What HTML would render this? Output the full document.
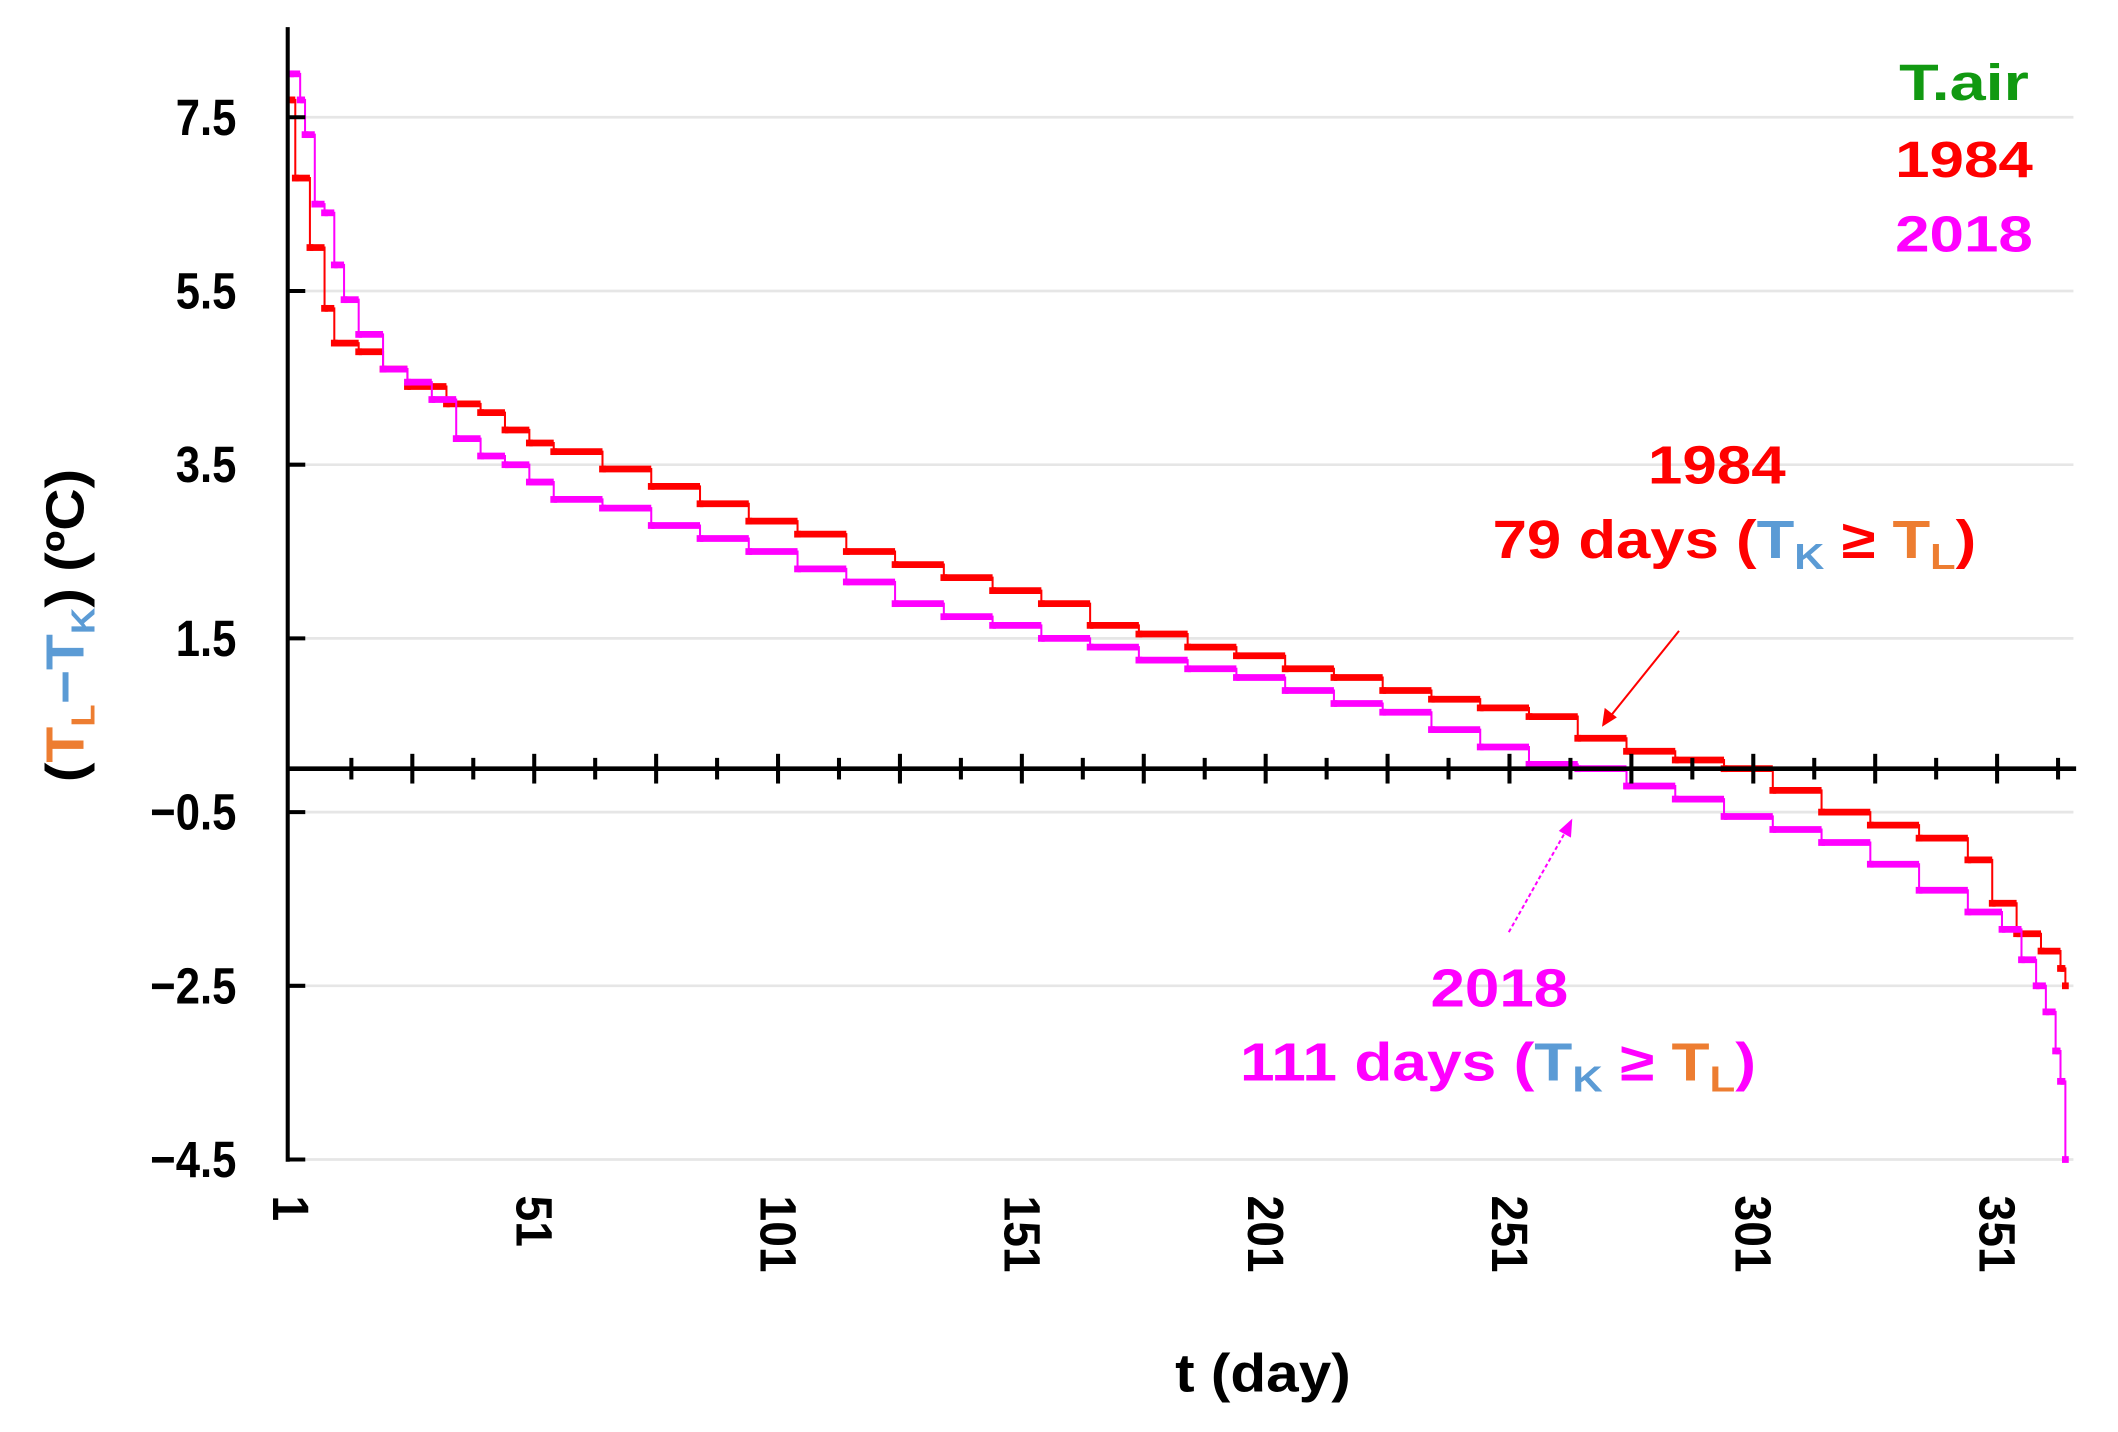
<!DOCTYPE html>
<html><head><meta charset="utf-8"><style>
html,body{margin:0;padding:0;background:#fff;}
svg{display:block;font-family:"Liberation Sans",Arial,sans-serif;font-weight:bold;}
</style></head><body>
<svg id="chart" width="2118" height="1432" viewBox="0 0 1568 1060" xmlns="http://www.w3.org/2000/svg">
<g id="grid"></g>
<g id="series"></g>
<g id="axes"></g>
<g font-size="38" text-anchor="end">
<text x="1502" y="74" fill="#119911" textLength="96" lengthAdjust="spacingAndGlyphs">T.air</text>
<text x="1505" y="131" fill="#ff0000" textLength="102" lengthAdjust="spacingAndGlyphs">1984</text>
<text x="1505" y="186" fill="#ff00ff" textLength="102" lengthAdjust="spacingAndGlyphs">2018</text>
</g>
<g font-size="40" fill="#ff0000">
<text x="1271" y="358" text-anchor="middle" textLength="102" lengthAdjust="spacingAndGlyphs">1984</text>
<text x="1105" y="413" textLength="358" lengthAdjust="spacingAndGlyphs">79 days (<tspan fill="#5b9bd5">T<tspan font-size="27" dy="8">K</tspan></tspan><tspan dy="-8"> ≥ </tspan><tspan fill="#ed7d31">T<tspan font-size="27" dy="8">L</tspan></tspan><tspan dy="-8">)</tspan></text>
</g>
<g font-size="40" fill="#ff00ff">
<text x="1110" y="745" text-anchor="middle" textLength="102" lengthAdjust="spacingAndGlyphs">2018</text>
<text x="918" y="800" textLength="382" lengthAdjust="spacingAndGlyphs">111 days (<tspan fill="#5b9bd5">T<tspan font-size="27" dy="8">K</tspan></tspan><tspan dy="-8"> ≥ </tspan><tspan fill="#ed7d31">T<tspan font-size="27" dy="8">L</tspan></tspan><tspan dy="-8">)</tspan></text>
</g>
<line x1="1243" y1="467" x2="1190" y2="533" stroke="#ff0000" stroke-width="1.5"/>
<polygon points="1186,538 1188,524 1197,531" fill="#ff0000"/>
<line x1="1117" y1="690" x2="1161" y2="612" stroke="#ff00ff" stroke-width="1.5" stroke-dasharray="3,2"/>
<polygon points="1164,606 1163,620 1154,615" fill="#ff00ff"/>
<text x="935" y="1030" text-anchor="middle" font-size="40" fill="#000" textLength="130" lengthAdjust="spacingAndGlyphs">t (day)</text>
<text transform="translate(62,463) rotate(-90)" text-anchor="middle" font-size="40" fill="#000" textLength="232" lengthAdjust="spacingAndGlyphs">(<tspan fill="#ed7d31">T<tspan font-size="25" dy="8">L</tspan></tspan><tspan dy="-8" fill="#5b9bd5">−T<tspan font-size="25" dy="8">K</tspan></tspan><tspan dy="-8">) (ºC)</tspan></text>
</svg>
<script>
const yTicks=[7.5,5.5,3.5,1.5,-0.5,-2.5,-4.5];
const yTickLabels=["7.5","5.5","3.5","1.5","\u22120.5","\u22122.5","\u22124.5"];
const xTicks=[1,51,101,151,201,251,301,351];
const days1984=[1,2,5,8,10,15,20,25,33,40,45,50,55,65,75,85,95,105,115,125,135,145,155,165,175,185,195,205,215,225,235,245,255,265,275,285,295,305,315,325,335,345,350,355,360,364,365];
const vals1984=[7.7,6.8,6.0,5.3,4.9,4.8,4.6,4.4,4.2,4.1,3.9,3.75,3.65,3.45,3.25,3.05,2.85,2.7,2.5,2.35,2.2,2.05,1.9,1.65,1.55,1.4,1.3,1.15,1.05,0.9,0.8,0.7,0.6,0.35,0.2,0.1,0,-0.25,-0.5,-0.65,-0.8,-1.05,-1.55,-1.9,-2.1,-2.3,-2.5];
const days2018=[1,3,4,6,8,10,12,15,20,25,30,35,40,45,50,55,65,75,85,95,105,115,125,135,145,155,165,175,185,195,205,215,225,235,245,255,265,275,285,295,305,315,325,335,345,352,356,359,361,363,364,365];
const vals2018=[8.0,7.7,7.3,6.5,6.4,5.8,5.4,5.0,4.6,4.45,4.25,3.8,3.6,3.5,3.3,3.1,3.0,2.8,2.65,2.5,2.3,2.15,1.9,1.75,1.65,1.5,1.4,1.25,1.15,1.05,0.9,0.75,0.65,0.45,0.25,0.05,0,-0.2,-0.35,-0.55,-0.7,-0.85,-1.1,-1.4,-1.65,-1.85,-2.2,-2.5,-2.8,-3.25,-3.6,-4.5];
const NS="http://www.w3.org/2000/svg";
const xS=d=>215+(d-1)*3.61;
const yS=v=>569-v*64.3;
function mk(tag,attrs,parent){const e=document.createElementNS(NS,tag);for(const k in attrs)e.setAttribute(k,attrs[k]);parent.appendChild(e);return e;}
const grid=document.getElementById('grid'),axes=document.getElementById('axes'),series=document.getElementById('series');
yTicks.forEach((t,i)=>{
  const g=mk('line',{x1:213,x2:1535,y1:yS(t),y2:yS(t),stroke:'#e6e6e6','stroke-width':2},grid);
  
  
  const tk=mk('line',{x1:213,x2:226,y1:yS(t),y2:yS(t),stroke:'#000','stroke-width':3},axes);
  
  
  const tl=mk('text',{x:175,y:yS(t)+13,'text-anchor':'end','font-size':38,fill:'#000',transform:`translate(175,0) scale(0.85,1) translate(-175,0)`},axes);
  tl.textContent=yTickLabels[i];
  
  
});
const ya=mk('line',{x1:213,x2:213,y1:20,y2:860,stroke:'#000','stroke-width':3},axes);


const xa=mk('line',{x1:213,x2:1537,y1:yS(0),y2:yS(0),stroke:'#000','stroke-width':3.5},axes);


for(let d=13.5;d<=366;d+=12.5){
  const major=Math.round((d-1)/12.5)%2===0;
  const t=mk('line',{x1:xS(d),x2:xS(d),y1:yS(0)-(major?11:8),y2:yS(0)+(major?11:8),stroke:'#000','stroke-width':3},axes);
  
  
}
xTicks.forEach(d=>{
  const tl=mk('text',{transform:`translate(${xS(d)-13},885) rotate(90) scale(0.9,1)`,'font-size':38,fill:'#000'},axes);
  tl.textContent=String(d);
  
  
});
function drawSeries(days,vals,color,name){
  let pts=[];
  for(let i=0;i<days.length;i++){
    if(i>0)pts.push(xS(days[i])+','+yS(vals[i-1]));
    pts.push(xS(days[i])+','+yS(vals[i]));
  }
  const p=mk('polyline',{points:pts.join(' '),fill:'none',stroke:color,'stroke-width':1.5},series);
  
  
  for(let i=0;i<days.length-1;i++){
    const s=mk('line',{x1:xS(days[i]),x2:xS(days[i+1]),y1:yS(vals[i]),y2:yS(vals[i]),stroke:color,'stroke-width':5},series);
    
    
  }
  days.forEach((d,i)=>{
    const r=mk('rect',{x:xS(d)-2.5,y:yS(vals[i])-2.5,width:5,height:5,fill:color},series);
    
    
  });
}
drawSeries(days1984,vals1984,'#ff0000','series-1984');
drawSeries(days2018,vals2018,'#ff00ff','series-2018');
</script>
</body></html>
